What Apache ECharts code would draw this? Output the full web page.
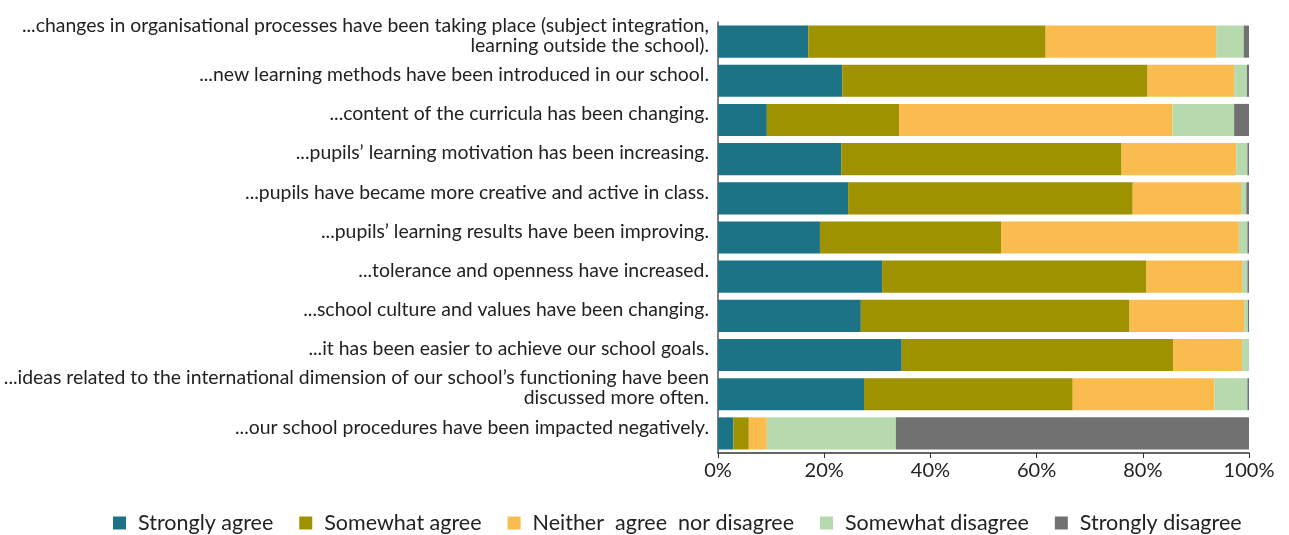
<!DOCTYPE html>
<html>
<head>
<meta charset="utf-8">
<script src="https://cdn.jsdelivr.net/npm/echarts@6/dist/echarts.min.js"></script>
<style>html,body{margin:0;padding:0;background:#fff;}#c{width:1289px;height:535px;}</style>
</head>
<body>
<div id="c"></div>
<script>
const categories = [
  "...changes in organisational processes have been taking place (subject integration,\nlearning outside the school).",
  "...new learning methods have been introduced in our school.",
  "...content of the curricula has been changing.",
  "...pupils\u2019 learning motivation has been increasing.",
  "...pupils have became more creative and active in class.",
  "...pupils\u2019 learning results have been improving.",
  "...tolerance and openness have increased.",
  "...school culture and values have been changing.",
  "...it has been easier to achieve our school goals.",
  "...ideas related to the international dimension of our school\u2019s functioning have been\ndiscussed more often.",
  "...our school procedures have been impacted negatively."
];
const seriesNames = ["Strongly agree", "Somewhat agree", "Neither  agree  nor disagree", "Somewhat disagree", "Strongly disagree"];
const stronglyAgree    = [17.0, 23.4, 9.2, 23.2, 24.5, 19.2, 30.9, 26.9, 34.6, 27.5, 2.9];
const somewhatAgree    = [44.7, 57.5, 24.9, 52.8, 53.6, 34.1, 49.8, 50.6, 51.1, 39.3, 2.9];
const neither          = [32.1, 16.3, 51.5, 21.6, 20.4, 44.8, 18.0, 21.6, 13.0, 26.7, 3.4];
const somewhatDisagree = [5.2, 2.4, 11.6, 2.1, 1.0, 1.6, 1.0, 0.7, 1.3, 6.2, 24.3];
const stronglyDisagree = [1.0, 0.4, 2.8, 0.4, 0.5, 0.3, 0.3, 0.2, 0.0, 0.35, 66.5];
const xTicks = [0, 20, 40, 60, 80, 100];

const colors = ["#1b7385", "#9e9200", "#fbbc4f", "#b7d9ae", "#717171"];
const values = [stronglyAgree, somewhatAgree, neither, somewhatDisagree, stronglyDisagree];
const font = "Lato";

const chart = echarts.init(document.getElementById('c'));
chart.setOption({
  animation: false,
  textStyle: { fontFamily: font },
  grid: { left: 718, right: 40, top: 22, bottom: 82, containLabel: false },
  legend: {
    bottom: -4,
    left: 108,
    icon: 'rect',
    itemWidth: 13,
    itemHeight: 13,
    itemGap: 26,
    textStyle: { fontFamily: font, fontSize: 21.5, color: '#222', padding: [0, 0, 0, 7] },
    data: seriesNames
  },
  xAxis: {
    type: 'value',
    min: 0, max: 100, interval: 20,
    axisLine: { show: true, lineStyle: { color: '#333', width: 1.5 } },
    axisTick: { show: true, length: 5, lineStyle: { color: '#333' } },
    splitLine: { show: false },
    axisLabel: { fontFamily: font, fontSize: 20, color: '#222', margin: 8,
      formatter: v => xTicks.includes(v) ? v + '%' : '' }
  },
  yAxis: {
    type: 'category',
    inverse: true,
    data: categories,
    axisLine: { show: true, lineStyle: { color: '#555', width: 1.5 } },
    axisTick: { show: false },
    axisLabel: {
      interval: 0,
      margin: 9,
      align: 'right',
      formatter: v => v.split('\n').map(l => '{t|' + l + '}').join('\n') + '\n{s| }',
      rich: {
        t: { fontFamily: font, fontSize: 19.4, color: '#222', lineHeight: 20, align: 'right' },
        s: { fontSize: 4, lineHeight: 12 }
      }
    }
  },
  series: values.map((vals, i) => ({
    name: seriesNames[i],
    type: 'bar',
    stack: 'total',
    barCategoryGap: '18%',
    itemStyle: { color: colors[i] },
    data: vals
  }))
});
</script>
</body>
</html>
